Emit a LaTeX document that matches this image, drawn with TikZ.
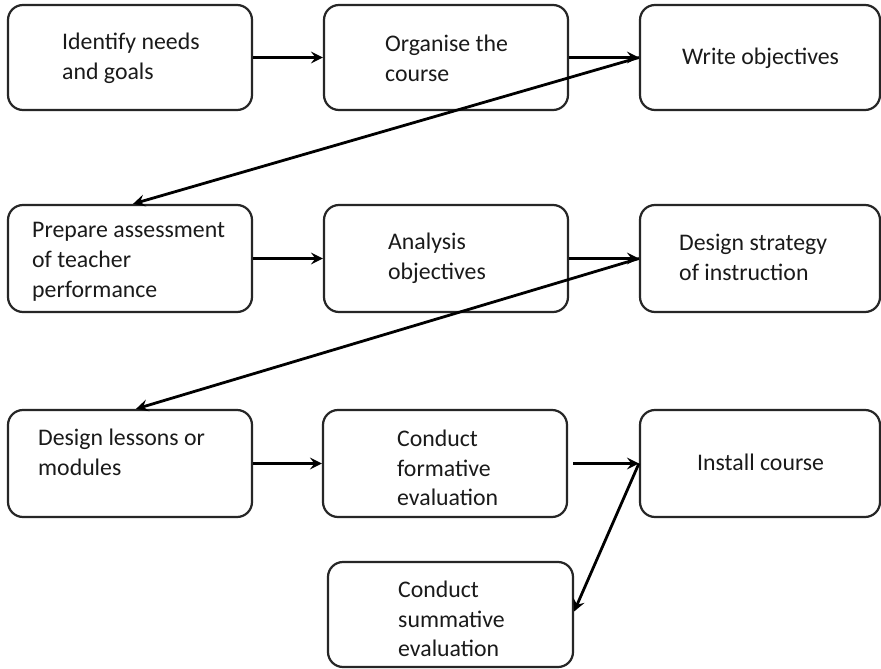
\documentclass[tikz,border=0pt]{standalone}
\usepackage{fontspec}
\setmainfont{Carlito}
\usetikzlibrary{arrows.meta}
\definecolor{edge}{HTML}{262626}
\definecolor{ink}{HTML}{1A1A1A}
\begin{document}
\begin{tikzpicture}[x=1pt,y=-1pt,
  stepbox/.style={draw=edge,line width=2.2pt,rounded corners=15pt,fill=white,
    minimum width=244pt,minimum height=105pt,inner sep=0pt},
  label/.style={anchor=west,align=left,text=ink,inner sep=0pt,
    font=\fontsize{23.8}{29.8}\selectfont},
  flow/.style={draw=black,line width=2.8pt,
    -{Stealth[length=12pt,width=12pt,inset=4.5pt]}}]
\useasboundingbox (0,0) rectangle (881,669);
\fill[white] (0,0) rectangle (881,669);

% row 1
\node[stepbox] (b1) at (130,57.5) {};
\node[stepbox] (b2) at (446,57.5) {};
\node[stepbox,minimum width=240pt] (b3) at (760,57.5) {};
% row 2
\node[stepbox,minimum height=107pt] (b4) at (130,258.5) {};
\node[stepbox,minimum height=107pt] (b5) at (446,258.5) {};
\node[stepbox,minimum width=240pt,minimum height=107pt] (b6) at (760,258.5) {};
% row 3
\node[stepbox,minimum height=107pt] (b7) at (130,463.5) {};
\node[stepbox,minimum height=107pt] (b8) at (445,463.5) {};
\node[stepbox,minimum width=240pt,minimum height=107pt] (b9) at (760,463.5) {};
% final step
\node[stepbox,minimum width=245pt] (b10) at (450.5,614.5) {};

% texts
\node[label] (t1) at (62,58) {Identify needs\\and goals};
\node[label] (t2) at (385,58) {Organise the\\course};
\node[label] (t3) at (682,58) {Write objectives};
\node[label] (t4) at (32,262) {Prepare assessment\\of teacher\\performance};
\node[label] (t5) at (388,258) {Analysis\\objectives};
\node[label] (t6) at (679,257) {Design strategy\\of instruction};
\node[label] (t7) at (38,452) {Design lessons or\\modules};
\node[label] (t8) at (397,468) {Conduct\\formative\\evaluation};
\node[label] (t9) at (697,462) {Install course};
\node[label] (t10) at (398,619) {Conduct\\summative\\evaluation};

% connectors
\draw[flow] (b1.east) -- (b2.west);
\draw[flow] (b2.east) -- (b3.west);
\draw[flow] (b3.west) -- ([xshift=3pt]b4.north);
\draw[flow] (b4.east) -- (b5.west);
\draw[flow] (b5.east) -- (b6.west);
\draw[flow] (b6.west) -- ([xshift=6pt]b7.north);
\draw[flow] (b7.east) -- (b8.west);
\draw[flow,shorten <=5pt] (b8.east) -- (b9.west);
\draw[flow] (b9.west) -- ([yshift=3pt]b10.east);
\end{tikzpicture}
\end{document}
